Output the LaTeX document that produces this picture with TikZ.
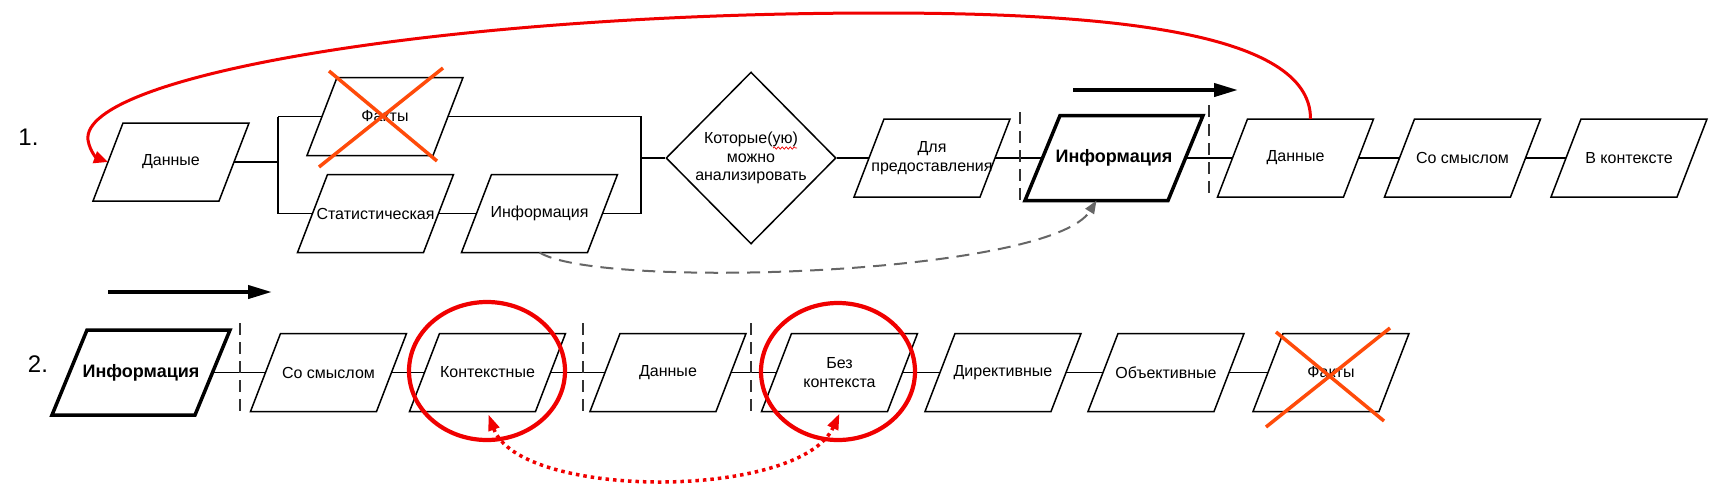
\documentclass[tikz,border=0pt]{standalone}
\usepackage{fontspec}
\setmainfont{Liberation Sans}
\usetikzlibrary{shapes.geometric, arrows.meta, decorations.pathmorphing, calc}
\definecolor{xred}{RGB}{240,0,0}
\definecolor{xcross}{RGB}{255,75,10}
\definecolor{dgray}{RGB}{102,102,102}
\definecolor{divgray}{RGB}{50,50,50}
\begin{document}
\begin{tikzpicture}[x=1pt, y=-1pt,
  pframe/.style 2 args={append after command={\pgfextra{\let\tln\tikzlastnode
      \draw[line width=#1, line join=miter] ([xshift=-#2]\tln.south west) -- ([xshift=-#2]\tln.south east) -- ([xshift=#2]\tln.north east) -- ([xshift=#2]\tln.north west) -- cycle;}}},
  box/.style={rectangle, minimum width=126pt, minimum height=78pt, inner sep=0pt, outer sep=0pt, font=\fontsize{16}{19}\selectfont, align=center, pframe={1.5pt}{15pt}},
  boldbox/.style={rectangle, minimum width=143pt, minimum height=85pt, inner sep=0pt, outer sep=0pt, font=\fontsize{18}{21}\selectfont\bfseries, align=center, pframe={3.5pt}{17.5pt}},
  link/.style={line width=1.5pt},
  divider/.style={draw=divgray, line width=1.6pt, dash pattern=on 12pt off 7pt},
  cross/.style={draw=xcross, line width=3.5pt},
  ring/.style={draw=xred, line width=4.2pt, ellipse, inner sep=0pt},
  flow/.style={line width=4pt, -{Triangle[length=24pt,width=13pt]}},
  num/.style={font=\fontsize{24}{28}\selectfont, inner sep=0pt}
]
\useasboundingbox (0,0) rectangle (1720,496);

% ---------- row 1 ----------
\node[num] (n1) at (28.5,137.5) {1.};
\node[box] (d1) at (171,162) {Данные};
\node[box] (f1) at (385,116.5) {Факты};
\node[box] (s1) at (375.5,213.5) {Статистическая};
\node[box] (i1) at (539.5,213.5) {Информация};
\node[diamond, draw, line width=1.5pt, minimum width=170pt, minimum height=172pt, inner sep=0pt, aspect=1, font=\fontsize{16}{18.5}\selectfont, align=center] (k1) at (751,158) {Которые(ую)\\можно\\анализировать};
\node[box] (p1) at (932,158) {Для\\предоставления};
\node[boldbox] (I1) at (1114,158) {Информация};
\node[box] (d2) at (1295.5,158) {Данные};
\node[box] (c1) at (1462.5,158) {Со смыслом};
\node[box] (v1) at (1629,158) {В контексте};

\coordinate (bl) at (278,162);
\coordinate (blt) at (278,116.5);
\coordinate (blb) at (278,213.5);
\coordinate (brt) at (641,116.5);
\coordinate (brb) at (641,213.5);
\coordinate (brm) at (641,158);
\draw[link] (d1) -- (bl);
\draw[link] (blt) -- (blb);
\draw[link] (blt) -- (f1);
\draw[link] (blb) -- (s1);
\draw[link] (s1) -- (i1);
\draw[link] (i1) -- (brb) -- (brt) -- (f1);
\draw[link] (brm) -- (k1);
\draw[link] (k1) -- (p1);
\draw[link] (p1) -- (I1);
\draw[link] (I1) -- (d2);
\draw[link] (d2) -- (c1);
\draw[link] (c1) -- (v1);

\coordinate (dv1a) at (1020,112);
\coordinate (dv1b) at (1020,202);
\coordinate (dv2a) at (1209,105);
\coordinate (dv2b) at (1209,197);
\draw[divider] (dv1a) -- (dv1b);
\draw[divider] (dv2a) -- (dv2b);

\coordinate (a1s) at (1073,90);
\coordinate (a1e) at (1238,90);
\draw[flow] (a1s) -- (a1e);

\draw[cross] (329,71) -- (437,161);
\draw[cross] (443,68) -- (319,167);

\draw[xred, line width=0.7pt, decorate, decoration={snake, amplitude=1.2pt, segment length=4pt}] (773,148) -- (797,148);

\draw[xred, line width=3pt, -{Triangle[length=14pt,width=12pt]}] ([xshift=15pt]d2.north) .. controls (1311,30) and (1100,13) .. (880,13) .. controls (450,13) and (80,75) .. (88,140) .. controls (90,152) and (97,158) .. (d1.west);

\draw[dgray, line width=2pt, dash pattern=on 13pt off 8pt, -{Triangle[length=13pt,width=10pt]}] (i1.center |- i1.south) .. controls (600,290) and (1050,275) .. ([xshift=-17.5pt]I1.south);

% ---------- row 2 ----------
\node[num] (n2) at (38,364) {2.};
\node[boldbox] (I2) at (141,372.5) {Информация};
\node[box] (c2) at (328.5,372.5) {Со смыслом};
\node[box] (k2) at (487.5,372.5) {Контекстные};
\node[box] (d3) at (668,372.5) {Данные};
\node[box] (b2) at (839.5,372.5) {Без\\контекста};
\node[box] (dir) at (1003,372.5) {Директивные};
\node[box] (obj) at (1166,372.5) {Объективные};
\node[box] (f2) at (1331,372.5) {Факты};

\draw[link] (I2) -- (c2);
\draw[link] (c2) -- (k2);
\draw[link] (k2) -- (d3);
\draw[link] (d3) -- (b2);
\draw[link] (b2) -- (dir);
\draw[link] (dir) -- (obj);
\draw[link] (obj) -- (f2);

\coordinate (dv3a) at (240,323);
\coordinate (dv3b) at (240,415);
\coordinate (dv4a) at (583,323);
\coordinate (dv4b) at (583,415);
\coordinate (dv5a) at (751,323);
\coordinate (dv5b) at (751,415);
\draw[divider] (dv3a) -- (dv3b);
\draw[divider] (dv4a) -- (dv4b);
\draw[divider] (dv5a) -- (dv5b);

\coordinate (a2s) at (108,292);
\coordinate (a2e) at (272,292);
\draw[flow] (a2s) -- (a2e);

\node[ring, minimum width=156pt, minimum height=138pt] (r1) at (487,371) {};
\node[ring, minimum width=154pt, minimum height=137pt] (r2) at (838,371.5) {};

\draw[cross] (1276,332) -- (1384,421);
\draw[cross] (1390,328) -- (1266,427);

\draw[xred, line width=3.5pt, dash pattern=on 3.5pt off 4pt, {Triangle[length=16pt,width=11pt]}-{Triangle[length=16pt,width=11pt]}] ($(k2.center |- k2.south)+(1,3)$) .. controls (520,500) and (800,500) .. ($(b2.center |- b2.south)+(0,2)$);
\end{tikzpicture}
\end{document}
